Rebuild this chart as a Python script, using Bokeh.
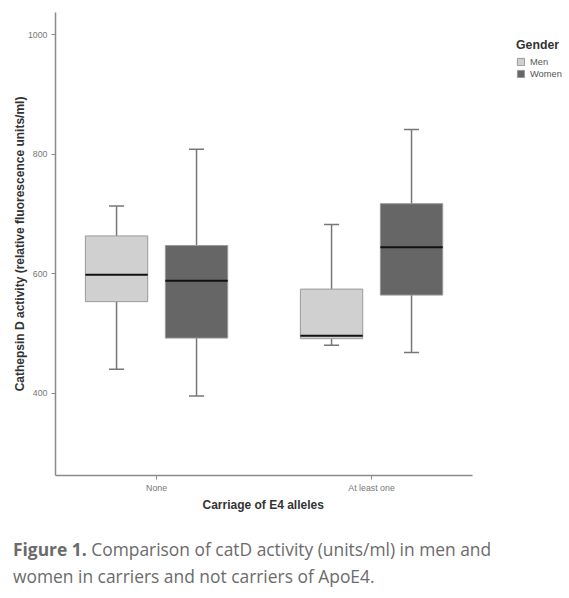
from bokeh.plotting import figure
from bokeh.models import Range1d, FixedTicker, Legend, LegendItem, Div, ColumnDataSource, Title
from bokeh.layouts import column
from bokeh.embed import file_html
from bokeh.resources import INLINE

categories = ["None", "At least one"]
genders = ["Men", "Women"]
men_low = [440, 480]
men_q1 = [553, 491]
men_med = [598, 496]
men_q3 = [663, 574]
men_high = [713, 682]
women_low = [395, 468]
women_q1 = [492, 564]
women_med = [588, 644]
women_q3 = [647, 717]
women_high = [808, 841]
y_ticks = [400, 600, 800, 1000]
x_title = "Carriage of E4 alleles"
y_title = "Cathepsin D activity (relative fluorescence units/ml)"

FONT = "Liberation Sans"
fills = {"Men": "#d0d0d0", "Women": "#666666"}
offsets = {"Men": -0.186, "Women": 0.186}
box_w = 0.29
cap_w = 0.07

# frame spans to the right edge so the legend is not clipped; the x axis line is bounded
p = figure(width=568, height=528, output_backend="svg", toolbar_location=None,
           x_range=Range1d(0.03, 2.4161), y_range=Range1d(262, 1037),
           min_border_left=55, min_border_right=0, min_border_top=12, min_border_bottom=53)
p.outline_line_color = None
p.xgrid.visible = False
p.ygrid.visible = False
p.background_fill_color = "white"
p.border_fill_color = "white"

series = {
    "Men": (men_low, men_q1, men_med, men_q3, men_high),
    "Women": (women_low, women_q1, women_med, women_q3, women_high),
}
items = []
for g in genders:
    low, q1, med, q3, high = series[g]
    xs = [i + 0.5 + offsets[g] for i in range(len(categories))]
    src = ColumnDataSource(dict(
        x=xs, low=low, q1=q1, med=med, q3=q3, high=high,
        xl=[x - box_w / 2 for x in xs], xr=[x + box_w / 2 for x in xs],
        cl=[x - cap_w / 2 for x in xs], cr=[x + cap_w / 2 for x in xs]))
    p.segment(x0="x", x1="x", y0="q3", y1="high", source=src, line_color="#777777", line_width=1.5)
    p.segment(x0="x", x1="x", y0="low", y1="q1", source=src, line_color="#777777", line_width=1.5)
    p.segment(x0="cl", x1="cr", y0="high", y1="high", source=src, line_color="#777777", line_width=1.5)
    p.segment(x0="cl", x1="cr", y0="low", y1="low", source=src, line_color="#777777", line_width=1.5)
    r = p.vbar(x="x", width=box_w, bottom="q1", top="q3", source=src,
               fill_color=fills[g], line_color="#9a9a9a", line_width=1)
    p.segment(x0="xl", x1="xr", y0="med", y1="med", source=src, line_color="#111111", line_width=2)
    items.append(LegendItem(label=g, renderers=[r]))

legend = Legend(items=items, location=(461, 396), title="Gender",
                title_text_font=FONT, title_text_font_style="bold", title_text_font_size="12.3px",
                title_text_color="#333333", title_standoff=4,
                label_text_font=FONT, label_text_font_size="9.3px", label_text_color="#555555",
                glyph_width=9, glyph_height=9, label_height=11, label_standoff=5, spacing=1,
                padding=2, margin=0, border_line_color=None, background_fill_alpha=0)
p.add_layout(legend)

for ax in (p.xaxis[0], p.yaxis[0]):
    ax.axis_line_color = "#8a8a8a"
    ax.axis_line_width = 1.5
    ax.major_tick_line_color = "#8a8a8a"
    ax.minor_tick_line_color = None
    ax.major_tick_out = 4
    ax.major_tick_in = 0
    ax.major_label_text_font = FONT
    ax.major_label_text_font_size = "8.8px"
    ax.major_label_text_color = "#777777"
    ax.axis_label_text_font = FONT
    ax.axis_label_text_font_style = "bold"
    ax.axis_label_text_font_size = "12px"
    ax.axis_label_text_color = "#333333"

p.yaxis.ticker = FixedTicker(ticks=y_ticks)
p.yaxis.axis_label = y_title
p.yaxis.major_label_standoff = 4
p.yaxis.axis_label_standoff = -2
p.xaxis.ticker = FixedTicker(ticks=[i + 0.5 for i in range(len(categories))])
p.xaxis.major_label_overrides = {i + 0.5: c for i, c in enumerate(categories)}
p.xaxis.bounds = (0.03, 1.97)
p.xaxis.major_label_standoff = 3

p.add_layout(Title(text=x_title, align="left", offset=147, standoff=0,
                   text_font=FONT, text_font_style="bold", text_font_size="12px",
                   text_color="#333333"), "below")

caption = Div(
    text='<span style="font-weight:bold">Figure 1.</span> Comparison of catD activity (units/ml) in men and<br>'
         'women in carriers and not carriers of ApoE4.',
    width=568, height=66, margin=(0, 0, 0, 0),
    styles={"font-family": "Open Sans", "font-size": "17.4px", "color": "#6b6b6b",
            "line-height": "27px", "padding-left": "13px", "padding-top": "8px"})

layout = column(p, caption, spacing=0)
open("out.html", "w").write(file_html(layout, INLINE))
